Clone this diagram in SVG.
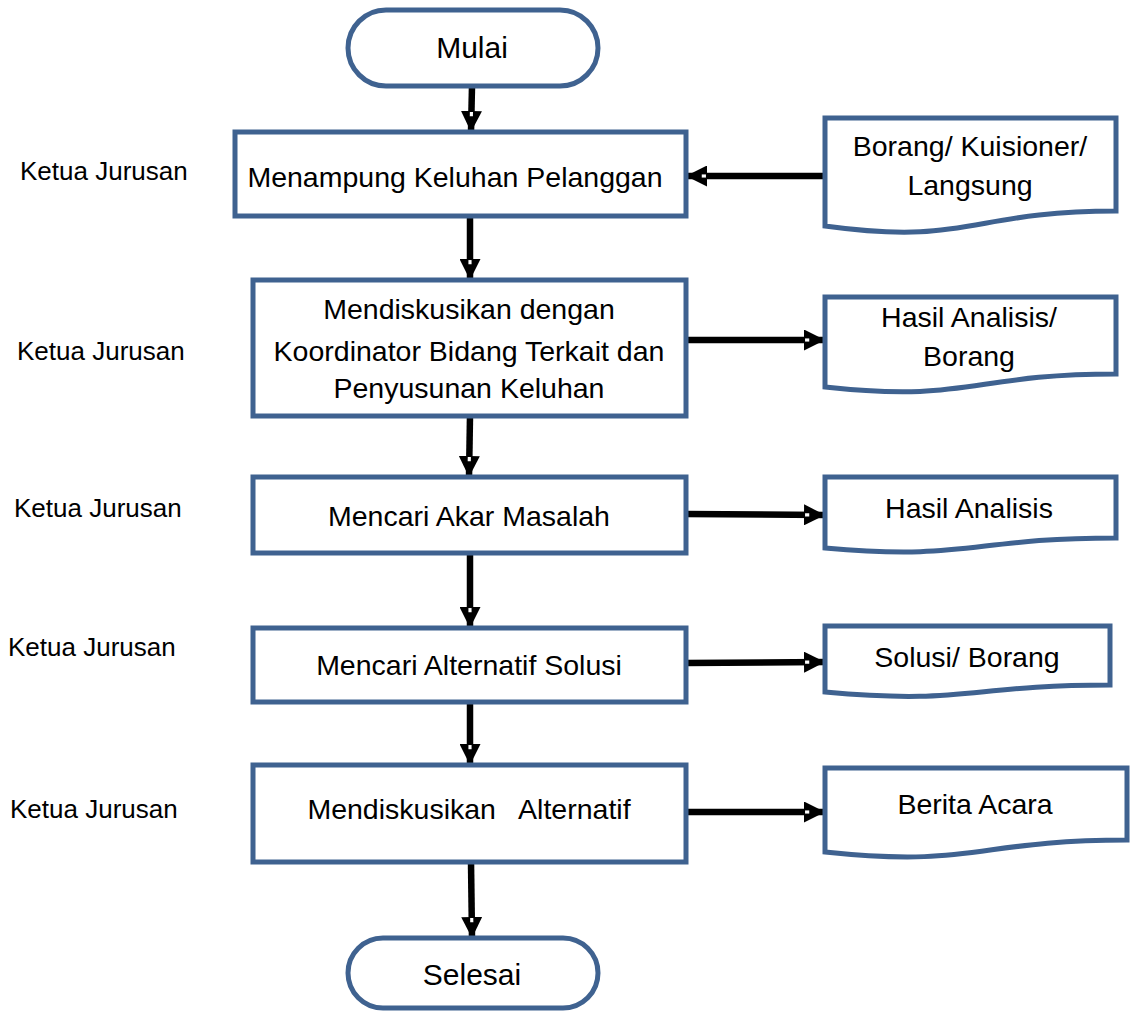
<svg xmlns="http://www.w3.org/2000/svg" width="1134" height="1013" viewBox="0 0 1134 1013">
<style>
.shape{fill:#fff;stroke:#3f6290;stroke-width:5}
.conn{stroke:#000;stroke-width:6.5;fill:none}
text{font-family:"Liberation Sans",Arial,sans-serif;font-size:28.5px;fill:#000}
.c{text-anchor:middle}
.lbl{font-size:26px}
.term{font-size:30px}
</style>
<defs>
<marker id="ah" markerUnits="userSpaceOnUse" viewBox="0 0 20 20" refX="20" refY="10" markerWidth="21" markerHeight="21" orient="auto">
<path d="M0,0 L20,10 L0,20 Z" fill="#000"/>
<rect x="1" y="8.5" width="4" height="3" fill="#fff"/>
</marker>
</defs>
<rect width="1134" height="1013" fill="#fff"/>
<g id="connectors">
<path class="conn" d="M472,86 L471,132" marker-end="url(#ah)"/>
<path class="conn" d="M825,176 L686,176" marker-end="url(#ah)"/>
<path class="conn" d="M470,216 L470,280" marker-end="url(#ah)"/>
<path class="conn" d="M686,340 L825,340" marker-end="url(#ah)"/>
<path class="conn" d="M470,416 L469,477" marker-end="url(#ah)"/>
<path class="conn" d="M686,514 L825,515" marker-end="url(#ah)"/>
<path class="conn" d="M470,553 L470,628" marker-end="url(#ah)"/>
<path class="conn" d="M686,663 L825,662" marker-end="url(#ah)"/>
<path class="conn" d="M470,702 L470,765" marker-end="url(#ah)"/>
<path class="conn" d="M686,812 L825,812" marker-end="url(#ah)"/>
<path class="conn" d="M471,862 L472,938" marker-end="url(#ah)"/>
</g>
<g id="mulai">
<rect class="shape" x="348" y="10" width="250" height="76" rx="38"/>
<text class="c term" x="472" y="58">Mulai</text>
</g>
<g id="box1">
<rect class="shape" x="235" y="132" width="451" height="84"/>
<text class="c" x="455" y="187">Menampung Keluhan Pelanggan</text>
</g>
<g id="doc1">
<path class="shape" d="M825,118 H1116 V211 C970,211 970,246 825,226 Z"/>
<text class="c" x="970" y="156">Borang/ Kuisioner/</text>
<text class="c" x="970" y="195">Langsung</text>
</g>
<g id="box2">
<rect class="shape" x="253" y="280" width="433" height="136"/>
<text class="c" x="469" y="319">Mendiskusikan dengan</text>
<text class="c" x="469" y="361">Koordinator Bidang Terkait dan</text>
<text class="c" x="469" y="398">Penyusunan Keluhan</text>
</g>
<g id="doc2">
<path class="shape" d="M825,297 H1116 V374 C970,374 970,403 825,387 Z"/>
<text class="c" x="969" y="327">Hasil Analisis/</text>
<text class="c" x="969" y="366">Borang</text>
</g>
<g id="box3">
<rect class="shape" x="253" y="477" width="433" height="76"/>
<text class="c" x="469" y="526">Mencari Akar Masalah</text>
</g>
<g id="doc3">
<path class="shape" d="M825,477 H1116 V538 C970,538 970,561 825,548 Z"/>
<text class="c" x="969" y="518">Hasil Analisis</text>
</g>
<g id="box4">
<rect class="shape" x="253" y="628" width="433" height="74"/>
<text class="c" x="469" y="675">Mencari Alternatif Solusi</text>
</g>
<g id="doc4">
<path class="shape" d="M825,626 H1110 V685 C967,685 967,705 825,692 Z"/>
<text class="c" x="967" y="667">Solusi/ Borang</text>
</g>
<g id="box5">
<rect class="shape" x="253" y="765" width="433" height="97"/>
<text class="c" x="469" y="819" xml:space="preserve">Mendiskusikan   Alternatif</text>
</g>
<g id="doc5">
<path class="shape" d="M825,768 H1127 V840 C976,840 976,868 825,852 Z"/>
<text class="c" x="975" y="814">Berita Acara</text>
</g>
<g id="selesai">
<rect class="shape" x="348" y="938" width="250" height="70" rx="35"/>
<text class="c term" x="472" y="985">Selesai</text>
</g>
<g id="labels" class="lbl">
<text class="lbl" x="20" y="180">Ketua Jurusan</text>
<text class="lbl" x="17" y="360">Ketua Jurusan</text>
<text class="lbl" x="14" y="517">Ketua Jurusan</text>
<text class="lbl" x="8" y="656">Ketua Jurusan</text>
<text class="lbl" x="10" y="818">Ketua Jurusan</text>
</g>
</svg>
